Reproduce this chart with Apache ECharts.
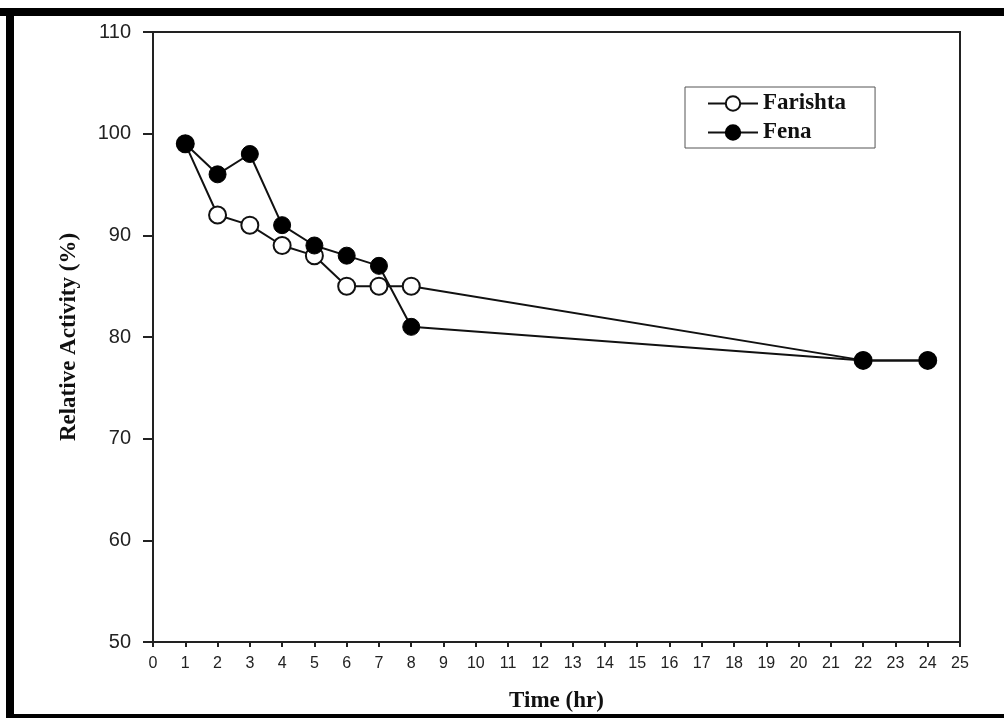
<!DOCTYPE html>
<html>
<head>
<meta charset="utf-8">
<script src="https://cdn.jsdelivr.net/npm/echarts@6/dist/echarts.min.js"></script>
<style>
html,body{margin:0;padding:0;background:#fff;}
#chart{width:1004px;height:718px;}
</style>
</head>
<body>
<div id="chart"></div>
<script>
var timeHr = [1, 2, 3, 4, 5, 6, 7, 8, 22, 24];
var farishta = [99, 92, 91, 89, 88, 85, 85, 85, 77.7, 77.7];
var fena = [99, 96, 98, 91, 89, 88, 87, 81, 77.7, 77.7];
var seriesNames = ['Farishta', 'Fena'];

function pairs(xs, ys) { return xs.map(function (x, i) { return [x, ys[i]]; }); }

var chart = echarts.init(document.getElementById('chart'));
var serif = '"Liberation Serif", "DejaVu Serif", serif';
var sans = '"Liberation Sans", Arial, sans-serif';
chart.setOption({
  animation: false,
  backgroundColor: '#ffffff',
  graphic: [
    { type: 'rect', shape: { x: 0, y: 8, width: 1004, height: 8 }, style: { fill: '#000' } },
    { type: 'rect', shape: { x: 6, y: 8, width: 8, height: 710 }, style: { fill: '#000' } },
    { type: 'rect', shape: { x: 6, y: 714, width: 998, height: 4 }, style: { fill: '#000' } }
  ],
  grid: { left: 153, right: 44, top: 32, bottom: 76, show: true, borderColor: '#222', borderWidth: 2, backgroundColor: 'transparent' },
  legend: {
    orient: 'vertical',
    left: 685, top: 87,
    padding: [5, 29, 4, 22],
    itemGap: 6,
    itemWidth: 50, itemHeight: 18,
    borderColor: '#555', borderWidth: 1,
    textStyle: { fontFamily: serif, fontWeight: 'bold', fontSize: 23, color: '#111' },
    data: seriesNames
  },
  xAxis: {
    type: 'value', min: 0, max: 25, interval: 1,
    name: 'Time (hr)', nameLocation: 'middle', nameGap: 48,
    nameTextStyle: { fontFamily: serif, fontWeight: 'bold', fontSize: 23, color: '#111' },
    axisLine: { show: true, lineStyle: { color: '#222', width: 2 } },
    axisTick: { show: true, length: 5, lineStyle: { color: '#222', width: 2 } },
    axisLabel: { fontFamily: sans, fontSize: 16, color: '#222', margin: 14 },
    splitLine: { show: false }
  },
  yAxis: {
    type: 'value', min: 50, max: 110, interval: 10,
    name: 'Relative Activity (%)', nameLocation: 'middle', nameGap: 72,
    nameTextStyle: { fontFamily: serif, fontWeight: 'bold', fontSize: 23, color: '#111' },
    axisLine: { show: true, lineStyle: { color: '#222', width: 2 } },
    axisTick: { show: true, length: 10, lineStyle: { color: '#222', width: 2 } },
    axisLabel: { fontFamily: sans, fontSize: 20, color: '#222', margin: 22 },
    splitLine: { show: false }
  },
  series: [
    {
      name: seriesNames[0], type: 'line', data: pairs(timeHr, farishta),
      symbol: 'circle', symbolSize: 17,
      lineStyle: { color: '#111', width: 2 },
      itemStyle: { color: '#fff', borderColor: '#111', borderWidth: 2 },
      z: 2
    },
    {
      name: seriesNames[1], type: 'line', data: pairs(timeHr, fena),
      symbol: 'circle', symbolSize: 17,
      lineStyle: { color: '#111', width: 2 },
      itemStyle: { color: '#000', borderColor: '#000', borderWidth: 1 },
      z: 3
    }
  ]
});
</script>
</body>
</html>
